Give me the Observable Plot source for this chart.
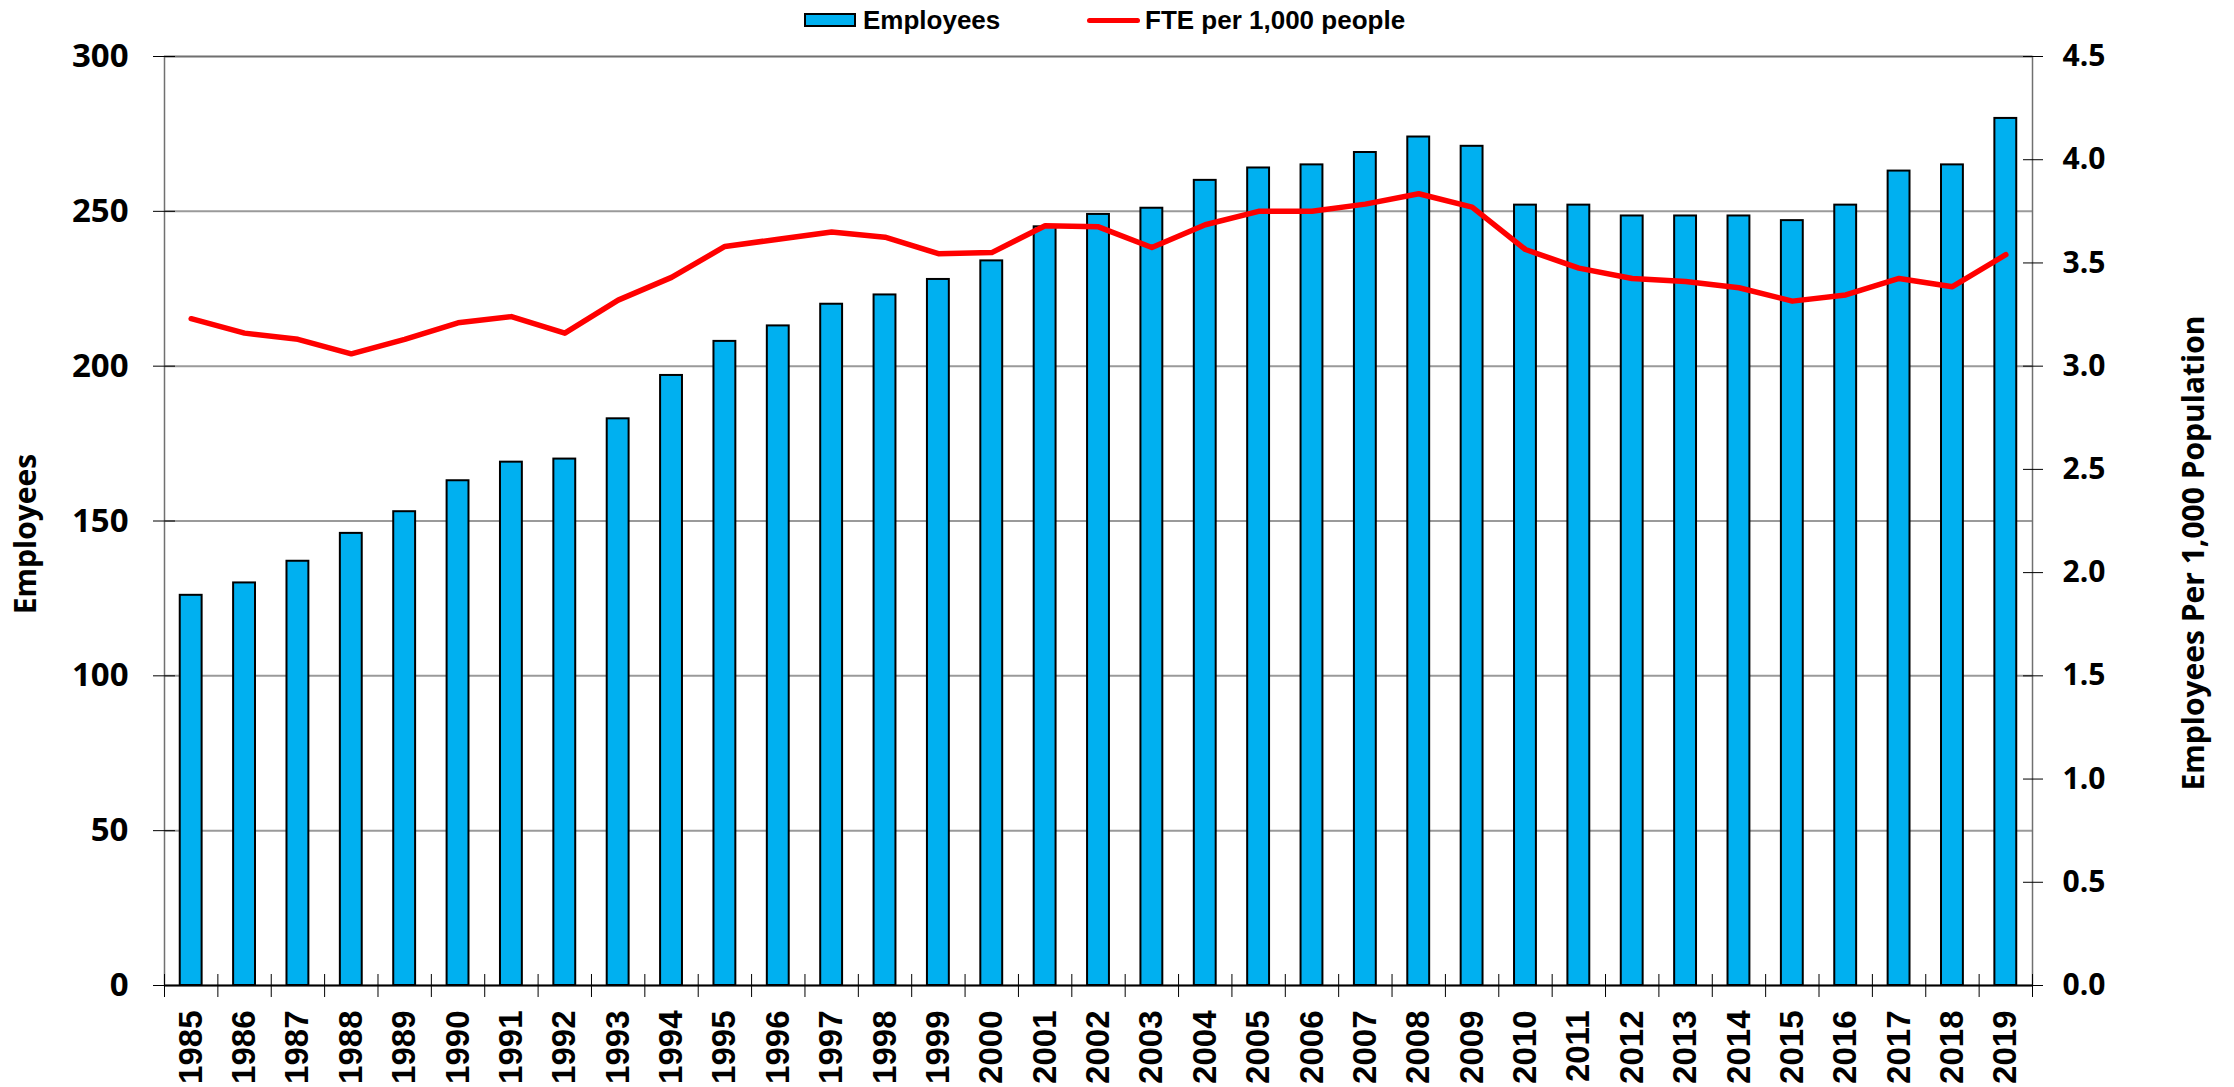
<!DOCTYPE html>
<html>
<head>
<meta charset="utf-8">
<script src="https://cdn.jsdelivr.net/npm/d3@7"></script>
<script src="https://cdn.jsdelivr.net/npm/@observablehq/plot@0.6"></script>
<style>
  body { margin: 0; background: #fff; }
  #wrap { position: relative; width: 2234px; height: 1087px; background: #fff; }
  .lg { position: absolute; font-family: "Liberation Sans", Arial, sans-serif; font-weight: bold; font-size: 26px; color: #000; line-height: 1; }
</style>
</head>
<body>
<div id="wrap">
  <div id="chart"></div>
  <div style="position:absolute;left:804px;top:13px;width:48px;height:10px;background:#00b0f0;border:2px solid #000;"></div>
  <div class="lg" style="left:863px;top:20px;transform:translateY(-50%);">Employees</div>
  <div style="position:absolute;left:1087px;top:17.5px;width:53px;height:5px;background:#ff0000;border-radius:2.5px;"></div>
  <div class="lg" style="left:1145px;top:20px;transform:translateY(-50%);">FTE per 1,000 people</div>
</div>
<script>
const years = [1985,1986,1987,1988,1989,1990,1991,1992,1993,1994,1995,1996,1997,1998,1999,2000,2001,2002,2003,2004,2005,2006,2007,2008,2009,2010,2011,2012,2013,2014,2015,2016,2017,2018,2019];
const employees = [126,130,137,146,153,163,169,170,183,197,208,213,220,223,228,234,245,249,251,260,264,265,269,274,271,252,252,248.5,248.5,248.5,247,252,263,265,280];
const ftePer1000 = [3.23,3.16,3.13,3.06,3.13,3.21,3.24,3.16,3.32,3.43,3.58,3.615,3.65,3.625,3.545,3.55,3.68,3.675,3.575,3.685,3.75,3.75,3.785,3.835,3.77,3.565,3.475,3.425,3.41,3.38,3.315,3.345,3.425,3.385,3.54];
const leftTicks = [0,50,100,150,200,250,300];
const rightTicks = [0,0.5,1.0,1.5,2.0,2.5,3.0,3.5,4.0,4.5];
const leftMax = 300, rightMax = 4.5;

const data = years.map((y, i) => ({year: String(y), emp: employees[i], fte: ftePer1000[i]}));
const toLeft = v => v * leftMax / rightMax;

const W = 2234, H = 1087, mL = 164, mR = 202, mT = 56, mB = 102;
const step = (W - mL - mR) / years.length;
const tickFont = "'Open Sans', 'DejaVu Sans', sans-serif";

const chart = Plot.plot({
  width: W, height: H,
  marginLeft: mL, marginRight: mR, marginTop: mT, marginBottom: mB,
  style: {background: "#fff", overflow: "visible", color: "#000"},
  x: {type: "band", domain: data.map(d => d.year), paddingInner: 0.59, paddingOuter: 0.295, round: false, label: null},
  y: {domain: [0, leftMax], label: null},
  marks: [
    Plot.ruleY(leftTicks.filter(d => d > 0), {stroke: "#9a9a9a", strokeWidth: 2}),
    Plot.frame({stroke: "#707070", strokeWidth: 1.5}),
    Plot.barY(data, {x: "year", y: "emp", fill: "#00b0f0", stroke: "#000", strokeWidth: 2}),
    Plot.ruleY([0], {stroke: "#000", strokeWidth: 2}),
    Plot.line(data, {x: "year", y: d => toLeft(d.fte), stroke: "#ff0000", strokeWidth: 5.5, strokeLinejoin: "round", strokeLinecap: "round"}),
    // left axis
    Plot.axisY(leftTicks, {anchor: "left", tickSize: 22, dx: 11, tickFormat: () => "", stroke: "#000", label: null}),
    Plot.axisY(leftTicks, {anchor: "left", tickSize: 0, tickPadding: 36, fontSize: 33, fontWeight: "bold", fontFamily: tickFont, label: null}),
    // right axis
    Plot.axisY(rightTicks.map(toLeft), {anchor: "right", tickSize: 20, dx: -10, tickFormat: () => "", stroke: "#000", label: null}),
    Plot.axisY(rightTicks.map(toLeft), {anchor: "right", tickSize: 0, tickPadding: 30, tickFormat: d => (d * rightMax / leftMax).toFixed(1), fontSize: 30, fontWeight: "bold", fontFamily: tickFont, label: null}),
    // x axis ticks at band boundaries
    Plot.axisX(data.map(d => d.year), {anchor: "bottom", tickSize: 23, dy: -11, dx: -step / 2, tickFormat: () => "", stroke: "#000", label: null}),
    Plot.axisX([data[data.length - 1].year], {anchor: "bottom", tickSize: 23, dy: -11, dx: step / 2, tickFormat: () => "", stroke: "#000", label: null}),
    Plot.axisX(data.map(d => d.year), {anchor: "bottom", tickSize: 0, tickPadding: 25, tickRotate: -90, fontSize: 33, fontWeight: "bold", fontFamily: "'Liberation Sans', Arial, sans-serif", label: null}),
    // axis titles
    Plot.text(["Employees"], {text: d => d, frameAnchor: "left", textAnchor: "middle", dx: -138, dy: 13, rotate: -90, fontSize: 30, fontWeight: "bold", fontFamily: tickFont}),
    Plot.text(["Employees Per 1,000 Population"], {text: d => d, frameAnchor: "right", textAnchor: "middle", dx: 162, dy: 32, rotate: -90, fontSize: 30, fontWeight: "bold", fontFamily: tickFont})
  ]
});
document.getElementById("chart").appendChild(chart);
</script>
</body>
</html>
